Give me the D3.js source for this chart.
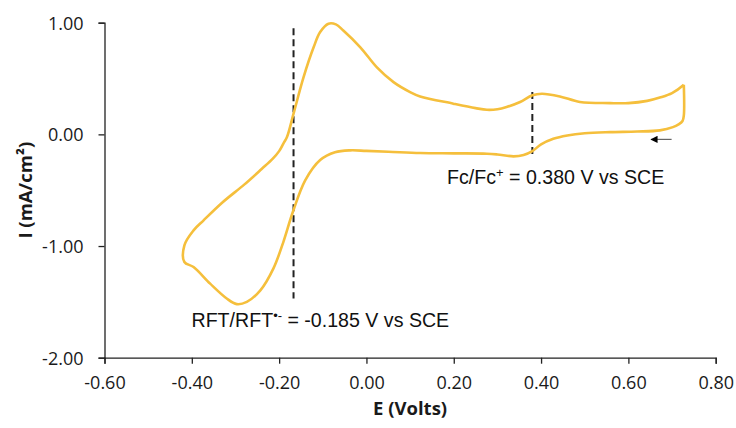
<!DOCTYPE html>
<html><head><meta charset="utf-8">
<script src="https://cdn.jsdelivr.net/npm/d3@7"></script>
<style>body{margin:0;background:#fff}svg{display:block}</style>
</head><body>
<svg id="c" width="736" height="428"></svg>
<script>
// Cyclic voltammogram: E (V vs SCE), I (mA/cm2), in sweep order
const sweepE = [0.727,0.727,0.724,0.715,0.702,0.672,0.62,0.558,0.50,0.46,0.428,0.40,0.38,0.36,0.337,0.30,0.276,0.20,0.123,0.05,0.0,-0.037,-0.072,-0.106,-0.14,-0.169,-0.19,-0.213,-0.243,-0.274,-0.297,-0.32,-0.358,-0.396,-0.417,-0.417,-0.396,-0.373,-0.33,-0.28,-0.24,-0.215,-0.20,-0.19,-0.182,-0.167,-0.144,-0.121,-0.106,-0.087,-0.07,-0.053,-0.014,0.024,0.062,0.10,0.123,0.199,0.25,0.276,0.30,0.321,0.352,0.38,0.402,0.443,0.489,0.558,0.60,0.643,0.672,0.70,0.727];
const sweepI = [0.445,0.17,0.12,0.09,0.065,0.036,0.025,0.02,0.01,-0.01,-0.04,-0.09,-0.15,-0.185,-0.197,-0.18,-0.173,-0.17,-0.167,-0.155,-0.148,-0.143,-0.16,-0.23,-0.41,-0.70,-0.96,-1.2,-1.397,-1.50,-1.52,-1.47,-1.337,-1.188,-1.143,-0.994,-0.86,-0.77,-0.61,-0.45,-0.31,-0.22,-0.15,-0.08,-0.024,0.185,0.513,0.78,0.916,0.991,0.985,0.93,0.78,0.60,0.468,0.379,0.34,0.275,0.235,0.22,0.225,0.245,0.29,0.35,0.364,0.34,0.29,0.28,0.28,0.30,0.33,0.37,0.445];
const xTicks = [-0.6,-0.4,-0.2,0.0,0.2,0.4,0.6,0.8];
const yTicks = [1.0,0.0,-1.0,-2.0];
const refLines = [
  {E:-0.167, top:0.95, bottom:-1.47, label:"RFT/RFT", sup:"•-", rest:" = -0.185 V vs SCE"},
  {E:0.380, top:0.38, bottom:-0.2, label:"Fc/Fc", sup:"+", rest:" = 0.380 V vs SCE"}
];
const arrowE = [0.699, 0.652];
const arrowI = -0.045;

const svg = d3.select("#c");
const L = 104.5, R = 715.7, T = 22.7, B = 357.7;
const x = d3.scaleLinear().domain([-0.6,0.8]).range([L,R]);
const y = d3.scaleLinear().domain([-2,1]).range([B,T]);
const axisCol = "#222";
const tickFont = "'Open Sans', sans-serif";
const fmt = v => d3.format(".2f")(v).replace("\u2212","-");

// axes
const gx = svg.append("g").attr("transform",`translate(0,${B})`)
  .call(d3.axisBottom(x).tickValues(xTicks).tickFormat(fmt).tickSizeOuter(0).tickSize(6).tickPadding(13));
const gy = svg.append("g").attr("transform",`translate(${L},0)`)
  .call(d3.axisLeft(y).tickValues(yTicks).tickFormat(fmt).tickSizeOuter(0).tickSize(6).tickPadding(15));
[gx,gy].forEach(g=>{
  g.select(".domain").attr("stroke",axisCol).attr("stroke-width",1.3);
  g.selectAll(".tick line").attr("stroke",axisCol).attr("stroke-width",1.3);
  g.selectAll(".tick text").attr("fill","#1a1a1a").style("font-family",tickFont).style("font-size","18px");
});
gy.selectAll(".tick text").attr("dy","0.35em");

// axis titles
svg.append("text").attr("x",(L+R)/2).attr("y",415).attr("text-anchor","middle")
  .style("font-family",tickFont).style("font-weight","bold").style("font-size","18.5px").attr("fill","#1a1a1a").text("E (Volts)");
svg.append("text").attr("transform",`translate(32,${(T+B)/2}) rotate(-90)`).attr("text-anchor","middle")
  .style("font-family",tickFont).style("font-weight","bold").style("font-size","18.5px").attr("fill","#1a1a1a").text("I (mA/cm²)");

// dashed reference lines
svg.selectAll("line.ref").data(refLines).enter().append("line").attr("class","ref")
  .attr("x1",d=>x(d.E)).attr("x2",d=>x(d.E)).attr("y1",d=>y(d.top)).attr("y2",d=>y(d.bottom))
  .attr("stroke","#222").attr("stroke-width",2).attr("stroke-dasharray","7,4");

// CV curve
const pts = sweepE.map((e,i)=>[e,sweepI[i]]);
svg.append("path").datum(pts)
  .attr("d", d3.line().x(d=>x(d[0])).y(d=>y(d[1])).curve(d3.curveCatmullRom.alpha(0.5)))
  .attr("fill","none").attr("stroke","#F5BF3C").attr("stroke-width",2.6).attr("stroke-linejoin","round");

// annotations
const annFont = "'Liberation Sans', Arial, sans-serif";
const annPos = [{ax:191.5, by:327},{ax:447, by:184}];
refLines.forEach((d,i)=>{
  const t = svg.append("text").attr("x",annPos[i].ax).attr("y",annPos[i].by)
    .style("font-family",annFont).style("font-size","19.6px").attr("fill","#111");
  t.append("tspan").text(d.label);
  t.append("tspan").attr("dy",-7).style("font-size","13px").text(d.sup);
  t.append("tspan").attr("dy",7).text(d.rest);
});

// sweep direction arrow
svg.append("defs").append("marker").attr("id","ah").attr("viewBox","0 0 10 10")
  .attr("refX",9).attr("refY",5).attr("markerWidth",6).attr("markerHeight",6).attr("orient","auto")
  .append("path").attr("d","M0,0 L10,5 L0,10 Z").attr("fill","#000");
svg.append("line").attr("x1",x(arrowE[0])).attr("x2",x(arrowE[1])).attr("y1",y(arrowI)).attr("y2",y(arrowI))
  .attr("stroke","#666").attr("stroke-width",1.2).attr("marker-end","url(#ah)");
</script>
</body></html>
